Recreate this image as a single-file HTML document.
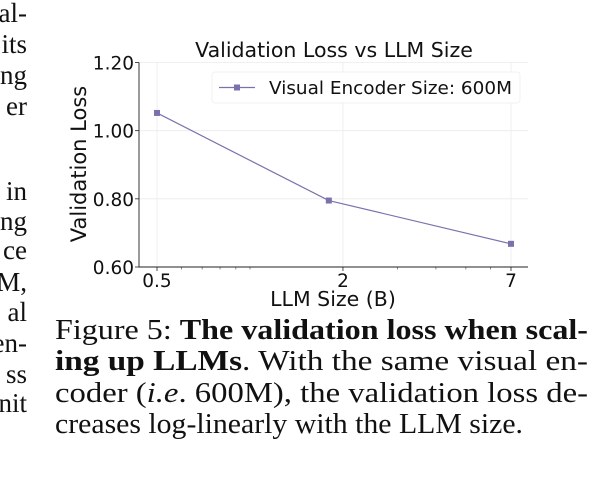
<!DOCTYPE html>
<html><head><meta charset="utf-8"><style>
html,body{margin:0;padding:0;background:#fff;}
svg{display:block;}
.serif{font-family:"Liberation Serif","Times New Roman",Times,serif;fill:#111;}
.sans{font-family:"DejaVu Sans","Liberation Sans",sans-serif;fill:#111;}
</style></head><body>
<svg id="fig" width="613" height="477" viewBox="0 0 613 477" xmlns="http://www.w3.org/2000/svg">
<g class="serif" font-family="Liberation Serif, Times New Roman, serif" font-size="27" text-anchor="end">
<text x="27" y="22">al-</text><text x="27" y="53">its</text><text x="27" y="84">ng</text><text x="27" y="115">er</text>
<text x="27" y="200">in</text><text x="27" y="230">ng</text><text x="27" y="259">ce</text><text x="27" y="291">M,</text>
<text x="27" y="321">al</text><text x="27" y="352">en-</text><text x="27" y="383">ss</text><text x="27" y="412">nit</text>
</g>
<g class="serif" font-family="Liberation Serif, Times New Roman, serif" font-size="28">
<text x="55" y="339" textLength="533" lengthAdjust="spacingAndGlyphs">Figure 5: <tspan font-weight="bold">The validation loss when scal-</tspan></text>
<text x="55" y="370" textLength="533" lengthAdjust="spacingAndGlyphs"><tspan font-weight="bold">ing up LLMs</tspan>. With the same visual en-</text>
<text x="55" y="402" textLength="533" lengthAdjust="spacingAndGlyphs">coder (<tspan font-style="italic">i.e</tspan>. 600M), the validation loss de-</text>
<text x="55" y="433" textLength="468" lengthAdjust="spacingAndGlyphs">creases log-linearly with the LLM size.</text>
</g>
<g id="chart"></g>
</svg>
<script>
const categories = [0.5, 1.8, 7];
const lossValues = [1.052, 0.795, 0.668];
const xTickValues = [0.5, 2, 7];
const xTickLabels = ["0.5", "2", "7"];
const xMinorTicks = [0.6, 0.7, 0.8, 0.9, 1, 3, 4, 5, 6];
const yTickValues = [0.6, 0.8, 1.0, 1.2];
const yTickLabels = ["0.60", "0.80", "1.00", "1.20"];
const seriesName = "Visual Encoder Size: 600M";

const NS = "http://www.w3.org/2000/svg";
const g = document.getElementById("chart");
const L = 139, R = 528, T = 62.5, B = 267;
const xLo = 0.5, xHi = 7, x0 = 157, x1 = 511;
function xs(v){ return x0 + (Math.log(v) - Math.log(xLo)) / (Math.log(xHi) - Math.log(xLo)) * (x1 - x0); }
function ys(v){ return B - (v - 0.6) / (1.2 - 0.6) * (B - T); }
function mk(tag, attrs, parent){ const e = document.createElementNS(NS, tag); for (const k in attrs) e.setAttribute(k, attrs[k]); (parent||g).appendChild(e); return e; }

yTickValues.forEach((v, i) => {
  const gl = mk("line", {x1:L, x2:R, y1:ys(v), y2:ys(v), stroke:"#ebebeb", "stroke-width":0.8});
  
  
  const tk = mk("line", {x1:L-4, x2:L, y1:ys(v), y2:ys(v), stroke:"#222", "stroke-width":0.8});
  
  
  const t = mk("text", {x:L-5, y:ys(v)+7, "text-anchor":"end", "font-size":18.5, class:"sans"});
  t.textContent = yTickLabels[i];
  
  
});
xTickValues.forEach((v, i) => {
  const gl = mk("line", {x1:xs(v), x2:xs(v), y1:T, y2:B, stroke:"#ebebeb", "stroke-width":0.8});
  
  
  const tk = mk("line", {x1:xs(v), x2:xs(v), y1:B, y2:B+4, stroke:"#222", "stroke-width":0.8});
  
  
  const t = mk("text", {x:xs(v), y:B+20, "text-anchor":"middle", "font-size":18.5, class:"sans"});
  t.textContent = xTickLabels[i];
  
  
});
xMinorTicks.forEach(v => {
  const tk = mk("line", {x1:xs(v), x2:xs(v), y1:B, y2:B+2.5, stroke:"#444", "stroke-width":0.6});
  
  
});
const ax = mk("path", {d:`M${L},${T} V${B} H${R}`, fill:"none", stroke:"#222", "stroke-width":0.9});



const color = "#7b72ad";
const pts = categories.map((c, i) => `${xs(c)},${ys(lossValues[i])}`).join(" ");
const line = mk("polyline", {points:pts, fill:"none", stroke:color, "stroke-width":1.2});


categories.forEach((c, i) => {
  const m = mk("rect", {x:xs(c)-3, y:ys(lossValues[i])-3, width:6, height:6, fill:color});
  
  
});

const lb = mk("rect", {x:212, y:72, width:308, height:31, rx:3, fill:"#fff", stroke:"#eeeeee", "stroke-width":0.8});


const ll = mk("line", {x1:219, x2:255, y1:87.5, y2:87.5, stroke:color, "stroke-width":1.2});


const lm = mk("rect", {x:234, y:84.5, width:6, height:6, fill:color});


const lt = mk("text", {x:269, y:94, "font-size":17.5, class:"sans", textLength:243, lengthAdjust:"spacingAndGlyphs"});
lt.textContent = seriesName;



const title = mk("text", {x:334, y:57, "text-anchor":"middle", "font-size":20.5, class:"sans"});
title.textContent = "Validation Loss vs LLM Size";


const xl = mk("text", {x:333, y:306, "text-anchor":"middle", "font-size":20.5, class:"sans"});
xl.textContent = "LLM Size (B)";


const yl = mk("text", {x:0, y:0, "text-anchor":"middle", "font-size":21, class:"sans", transform:"translate(86,164) rotate(-90)"});
yl.textContent = "Validation Loss";


</script>
</body></html>
